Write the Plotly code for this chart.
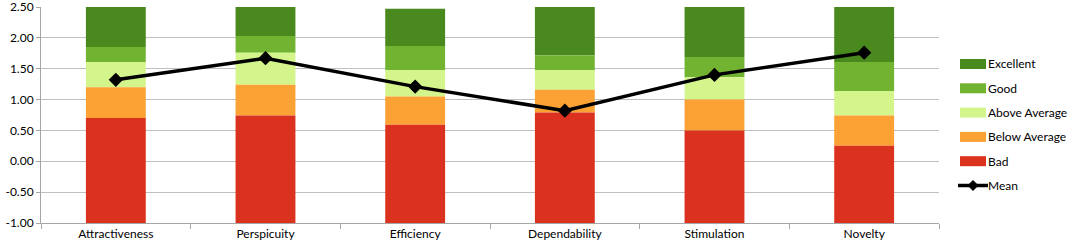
import plotly.graph_objects as go

categories = ["Attractiveness", "Perspicuity", "Efficiency", "Dependability", "Stimulation", "Novelty"]
# Upper boundaries of each benchmark band (bars start at -1.00)
axis_min = -1.0
bad_top = [0.70, 0.74, 0.59, 0.79, 0.50, 0.25]
below_top = [1.20, 1.24, 1.05, 1.16, 1.00, 0.74]
above_top = [1.61, 1.76, 1.48, 1.48, 1.36, 1.14]
good_top = [1.85, 2.03, 1.87, 1.72, 1.69, 1.61]
excellent_top = [2.50, 2.50, 2.47, 2.50, 2.50, 2.50]
mean_values = [1.32, 1.67, 1.21, 0.82, 1.40, 1.76]
y_ticks = [-1.0, -0.5, 0.0, 0.5, 1.0, 1.5, 2.0, 2.5]

band_names = ["Excellent", "Good", "Above Average", "Below Average", "Bad"]
band_colors = ["rgb(74,137,30)", "rgb(115,179,50)", "rgb(212,245,140)", "rgb(252,162,52)", "rgb(218,50,30)"]
band_bottoms = [good_top, above_top, below_top, bad_top, [axis_min] * len(categories)]
band_tops = [excellent_top, good_top, above_top, below_top, bad_top]

font_family = "Lato, 'Open Sans', sans-serif"

W, H = 1072, 250
ML, MR, MT, MB = 41, 133, 7, 27
PW, PH = W - ML - MR, H - MT - MB


def px_x(x):
    return (x - ML) / PW


def px_y(y):
    return (H - MB - y) / PH


fig = go.Figure()
for i, name in enumerate(band_names):
    bottoms = band_bottoms[i]
    tops = band_tops[i]
    fig.add_trace(go.Bar(
        x=categories,
        y=[t - b for t, b in zip(tops, bottoms)],
        base=bottoms,
        name=name,
        marker=dict(color=band_colors[i], line=dict(width=0)),
        width=0.4,
        hoverinfo="skip",
        showlegend=False,
    ))

fig.add_trace(go.Scatter(
    x=categories,
    y=mean_values,
    name="Mean",
    mode="lines+markers",
    line=dict(color="black", width=3.5),
    marker=dict(symbol="diamond", size=11, color="black"),
    showlegend=False,
))

# Legend drawn by hand (Excel style: wide colour swatches, line+diamond for Mean)
legend_names = band_names + ["Mean"]
legend_top_px = 64
legend_step_px = 24.3
sym_x0, sym_x1, text_x = 960, 986, 987
shapes = []
annotations = []
for i, name in enumerate(legend_names):
    yc = legend_top_px + i * legend_step_px
    if i < len(band_names):
        shapes.append(dict(
            type="rect", xref="paper", yref="paper",
            x0=px_x(sym_x0), x1=px_x(sym_x1),
            y0=px_y(yc + 5), y1=px_y(yc - 5),
            fillcolor=band_colors[i], line=dict(width=0), layer="above",
        ))
    else:
        shapes.append(dict(
            type="line", xref="paper", yref="paper",
            x0=px_x(sym_x0 - 2), x1=px_x(sym_x1 + 2),
            y0=px_y(yc), y1=px_y(yc),
            line=dict(color="black", width=3.5), layer="above",
        ))
        cx = (sym_x0 + sym_x1) / 2
        d = 5
        path = "M {} {} L {} {} L {} {} L {} {} Z".format(
            px_x(cx - d), px_y(yc), px_x(cx), px_y(yc - d),
            px_x(cx + d), px_y(yc), px_x(cx), px_y(yc + d))
        shapes.append(dict(
            type="path", xref="paper", yref="paper", path=path,
            fillcolor="black", line=dict(color="black", width=1), layer="above",
        ))
    annotations.append(dict(
        xref="paper", yref="paper", x=px_x(text_x), y=px_y(yc),
        xanchor="left", yanchor="middle", text=name, showarrow=False,
        borderpad=0,
        font=dict(size=12, family=font_family, color="black"),
    ))

fig.update_layout(
    width=W,
    height=H,
    barmode="overlay",
    plot_bgcolor="white",
    paper_bgcolor="white",
    margin=dict(l=ML, r=MR, t=MT, b=MB, autoexpand=False),
    font=dict(family=font_family, size=12, color="black"),
    showlegend=False,
    shapes=shapes,
    annotations=annotations,
    xaxis=dict(
        type="category",
        showgrid=False,
        showline=True,
        linecolor="#a6a6a6",
        linewidth=1,
        ticks="outside",
        tickson="boundaries",
        ticklen=5,
        tickcolor="#a6a6a6",
        tickfont=dict(size=12),
        range=[-0.5, 5.5],
    ),
    yaxis=dict(
        range=[-1.0, 2.5],
        tickmode="array",
        tickvals=y_ticks,
        ticktext=[f"{v:.2f}" for v in y_ticks],
        ticklabeloverflow="allow",
        showgrid=True,
        gridcolor="#bfbfbf",
        gridwidth=1,
        showline=True,
        linecolor="#a6a6a6",
        ticks="outside",
        ticklen=4,
        tickcolor="#a6a6a6",
        zeroline=False,
        tickfont=dict(size=12),
    ),
)

fig.write_html(
    "out.html",
    config={"displayModeBar": False},
    post_script="document.body.style.margin='0';document.body.style.overflow='hidden';",
)
